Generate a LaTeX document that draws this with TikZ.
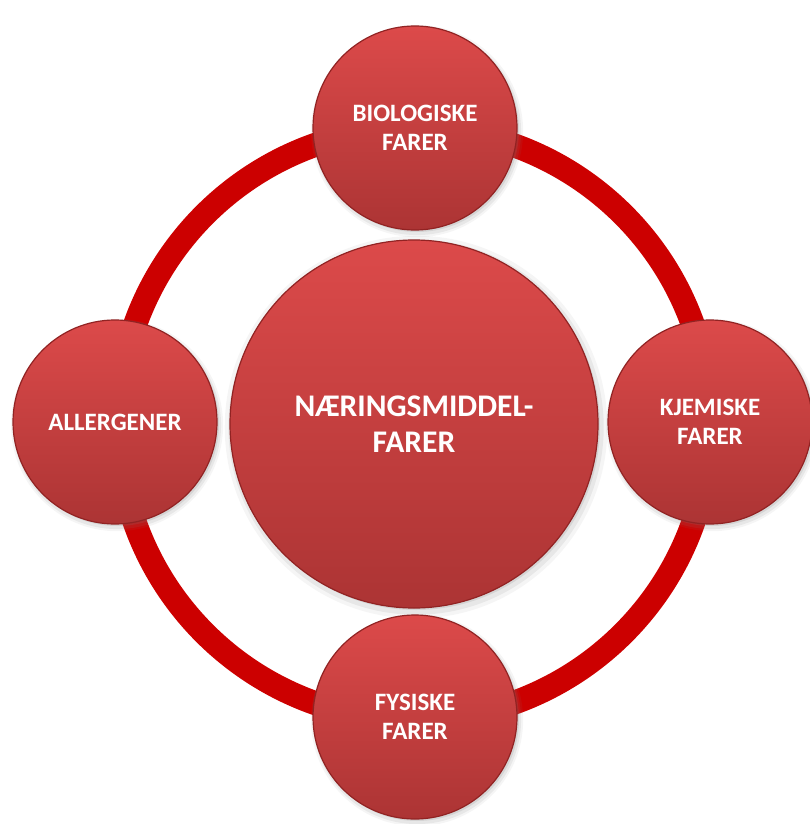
\documentclass[tikz,border=0pt]{standalone}
\usepackage{fontspec}
\setmainfont{Carlito}
\usetikzlibrary{shadows}
\definecolor{ringred}{RGB}{204,0,0}
\definecolor{ctop}{RGB}{220,74,74}
\definecolor{cbot}{RGB}{172,52,52}
\definecolor{cedge}{RGB}{145,35,35}
\tikzset{
  ball/.style={circle, minimum size=#1, inner sep=0pt,
    top color=ctop, bottom color=cbot, draw=cedge, line width=1.2pt,
    text=white, align=center,
    drop shadow={shadow xshift=2pt, shadow yshift=-3pt, opacity=0.08, shadow scale=1.04},
    drop shadow={shadow xshift=2pt, shadow yshift=-3pt, opacity=0.12, shadow scale=1.02},
    drop shadow={shadow xshift=2pt, shadow yshift=-2pt, opacity=0.18, shadow scale=1.0}},
  smallball/.style={ball=204pt, font=\bfseries\fontsize{25}{29}\selectfont},
  bigball/.style={ball=368pt, font=\bfseries\fontsize{31.5}{36}\selectfont},
  ring/.style={draw=ringred, line width=24pt}
}
\begin{document}
\begin{tikzpicture}[x=1pt,y=-1pt]
\useasboundingbox (0,0) rectangle (810,824);
\coordinate (o) at (414,424);
\draw[ring] (o) circle[radius=296];
\node[bigball] (center) at (414,424) {NÆRINGSMIDDEL-\\FARER};
\node[smallball] (bio) at (415,128) {BIOLOGISKE\\FARER};
\node[smallball] (all) at (115,422) {ALLERGENER};
\node[smallball] (kje) at (710,422) {KJEMISKE\\FARER};
\node[smallball] (fys) at (415,717) {FYSISKE\\FARER};
\end{tikzpicture}
\end{document}
